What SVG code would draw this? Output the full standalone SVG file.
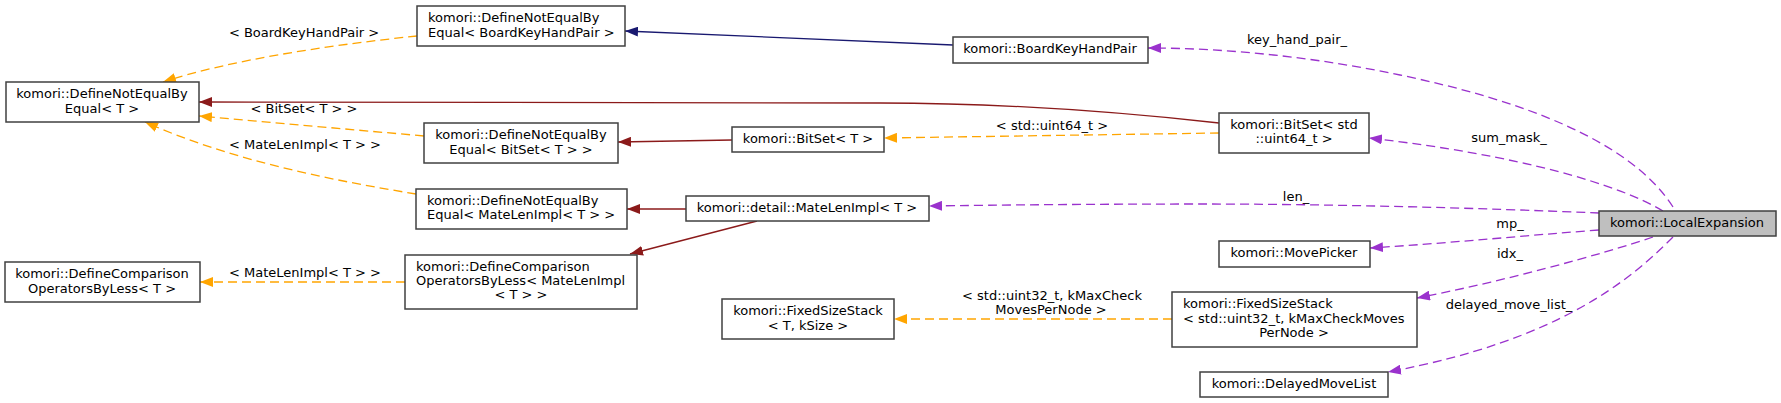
<svg xmlns="http://www.w3.org/2000/svg" width="1781" height="403" viewBox="0 0 1781 403">
<style>
  .n rect { fill: #ffffff; stroke: #404040; stroke-width: 1.5; }
  .n rect.hl { fill: #bfbfbf; }
  text { font-family: "DejaVu Sans", "Liberation Sans", sans-serif; font-size: 13px; fill: #000000; }
  .c { text-anchor: middle; }
  .l { text-anchor: start; }
  .e path { fill: none; stroke-width: 1.3; }
  .or { stroke: #ffa500; stroke-dasharray: 9,5; }
  .fb { stroke: #8b1a1a; }
  .mb { stroke: #191970; }
  .pu { stroke: #9a32cd; stroke-dasharray: 9,5; }
</style>
<defs>
  <marker id="aor" markerUnits="userSpaceOnUse" markerWidth="14" markerHeight="10" refX="13" refY="5" orient="auto"><polygon points="0,0 13,5 0,10" fill="#ffa500"/></marker>
  <marker id="afb" markerUnits="userSpaceOnUse" markerWidth="14" markerHeight="10" refX="13" refY="5" orient="auto"><polygon points="0,0 13,5 0,10" fill="#8b1a1a"/></marker>
  <marker id="amb" markerUnits="userSpaceOnUse" markerWidth="14" markerHeight="10" refX="13" refY="5" orient="auto"><polygon points="0,0 13,5 0,10" fill="#191970"/></marker>
  <marker id="apu" markerUnits="userSpaceOnUse" markerWidth="14" markerHeight="10" refX="13" refY="5" orient="auto"><polygon points="0,0 13,5 0,10" fill="#9a32cd"/></marker>
</defs>
<rect x="0" y="0" width="1781" height="403" fill="#ffffff"/>

<g id="edges" class="e">
  <path class="or" d="M417,36 C330,45 230,60 163,82" marker-end="url(#aor)"/>
  <text class="c" x="304" y="37">&lt; BoardKeyHandPair &gt;</text>
  <path class="fb" d="M1219,123 C1120,112 1000,103 880,103 C600,103 400,102 199,102" marker-end="url(#afb)"/>
  <path class="or" d="M424,136 L199,116" marker-end="url(#aor)"/>
  <text class="c" x="304" y="113">&lt; BitSet&lt; T &gt; &gt;</text>
  <path class="or" d="M416,194 C330,180 230,160 145,122" marker-end="url(#aor)"/>
  <text class="c" x="305" y="149">&lt; MateLenImpl&lt; T &gt; &gt;</text>
  <path class="or" d="M405,282 L200,282" marker-end="url(#aor)"/>
  <text class="c" x="305" y="277">&lt; MateLenImpl&lt; T &gt; &gt;</text>
  <path class="fb" d="M732,140 L618,142" marker-end="url(#afb)"/>
  <path class="fb" d="M686,209 L627,209" marker-end="url(#afb)"/>
  <path class="fb" d="M757,221 L630,254" marker-end="url(#afb)"/>
  <path class="mb" d="M953,45 L625,31" marker-end="url(#amb)"/>
  <path class="or" d="M1219,133 L884,138" marker-end="url(#aor)"/>
  <text class="c" x="1052" y="130">&lt; std::uint64_t &gt;</text>
  <path class="or" d="M1172,319 L894,319" marker-end="url(#aor)"/>
  <text class="c" x="1052" y="300">&lt; std::uint32_t, kMaxCheck</text>
  <text class="c" x="1051" y="314">MovesPerNode &gt;</text>
  <path class="pu" d="M1673,207 C1630,140 1520,100 1400,75 C1320,58 1230,48 1148,48" marker-end="url(#apu)"/>
  <text class="c" x="1297" y="44">key_hand_pair_</text>
  <path class="pu" d="M1663,211 C1620,185 1520,155 1369,138" marker-end="url(#apu)"/>
  <text class="c" x="1509" y="142">sum_mask_</text>
  <path class="pu" d="M1599,213 C1480,208 1330,204 1200,204 C1100,204 1000,205 929,206" marker-end="url(#apu)"/>
  <text class="c" x="1296" y="201">len_</text>
  <path class="pu" d="M1599,230 C1520,236 1450,243 1370,248" marker-end="url(#apu)"/>
  <text class="c" x="1510" y="228">mp_</text>
  <path class="pu" d="M1653,237 C1600,255 1500,282 1417,298" marker-end="url(#apu)"/>
  <text class="c" x="1510" y="258">idx_</text>
  <path class="pu" d="M1673,237 C1630,280 1560,340 1388,372" marker-end="url(#apu)"/>
  <text class="c" x="1509" y="309">delayed_move_list_</text>
</g>

<g id="node_DefineNotEqualByEqual_T" class="n">
  <rect x="6" y="82" width="193" height="40"/>
  <text class="c" x="102" y="98">komori::DefineNotEqualBy</text>
  <text class="c" x="102" y="113">Equal&lt; T &gt;</text>
</g>
<g id="node_DefineComparisonOperatorsByLess_T" class="n">
  <rect x="5" y="262" width="195" height="40"/>
  <text class="c" x="102" y="278">komori::DefineComparison</text>
  <text class="c" x="102" y="293">OperatorsByLess&lt; T &gt;</text>
</g>
<g id="node_DefineNotEqualByEqual_BoardKeyHandPair" class="n">
  <rect x="417" y="6" width="208" height="40"/>
  <text class="l" x="428" y="22">komori::DefineNotEqualBy</text>
  <text class="l" x="428" y="37">Equal&lt; BoardKeyHandPair &gt;</text>
</g>
<g id="node_DefineNotEqualByEqual_BitSet" class="n">
  <rect x="424" y="123" width="194" height="40"/>
  <text class="c" x="521" y="139">komori::DefineNotEqualBy</text>
  <text class="c" x="521" y="154">Equal&lt; BitSet&lt; T &gt; &gt;</text>
</g>
<g id="node_DefineNotEqualByEqual_MateLenImpl" class="n">
  <rect x="416" y="189" width="211" height="40"/>
  <text class="l" x="427" y="205">komori::DefineNotEqualBy</text>
  <text class="l" x="427" y="219">Equal&lt; MateLenImpl&lt; T &gt; &gt;</text>
</g>
<g id="node_DefineComparisonOperatorsByLess_MateLenImpl" class="n">
  <rect x="405" y="255" width="232" height="54"/>
  <text class="l" x="416" y="271">komori::DefineComparison</text>
  <text class="l" x="416" y="285">OperatorsByLess&lt; MateLenImpl</text>
  <text class="c" x="521" y="299">&lt; T &gt; &gt;</text>
</g>
<g id="node_BitSet_T" class="n">
  <rect x="732" y="127" width="152" height="25"/>
  <text class="c" x="808" y="143">komori::BitSet&lt; T &gt;</text>
</g>
<g id="node_MateLenImpl_T" class="n">
  <rect x="686" y="196" width="243" height="25"/>
  <text class="c" x="807" y="212">komori::detail::MateLenImpl&lt; T &gt;</text>
</g>
<g id="node_FixedSizeStack_T" class="n">
  <rect x="722" y="299" width="172" height="40"/>
  <text class="c" x="808" y="315">komori::FixedSizeStack</text>
  <text class="c" x="808" y="330">&lt; T, kSize &gt;</text>
</g>
<g id="node_BoardKeyHandPair" class="n">
  <rect x="953" y="37" width="195" height="26"/>
  <text class="c" x="1050" y="53">komori::BoardKeyHandPair</text>
</g>
<g id="node_BitSet_uint64" class="n">
  <rect x="1219" y="113" width="150" height="40"/>
  <text class="c" x="1294" y="129">komori::BitSet&lt; std</text>
  <text class="c" x="1294" y="143">::uint64_t &gt;</text>
</g>
<g id="node_MovePicker" class="n">
  <rect x="1219" y="241" width="151" height="26"/>
  <text class="c" x="1294" y="257">komori::MovePicker</text>
</g>
<g id="node_FixedSizeStack_uint32" class="n">
  <rect x="1172" y="292" width="245" height="55"/>
  <text class="l" x="1183" y="308">komori::FixedSizeStack</text>
  <text class="l" x="1183" y="323">&lt; std::uint32_t, kMaxCheckMoves</text>
  <text class="c" x="1294" y="337">PerNode &gt;</text>
</g>
<g id="node_DelayedMoveList" class="n">
  <rect x="1200" y="372" width="188" height="25"/>
  <text class="c" x="1294" y="388">komori::DelayedMoveList</text>
</g>
<g id="node_LocalExpansion" class="n">
  <rect class="hl" x="1599" y="211" width="177" height="25"/>
  <text class="c" x="1687" y="227">komori::LocalExpansion</text>
</g>
</svg>
